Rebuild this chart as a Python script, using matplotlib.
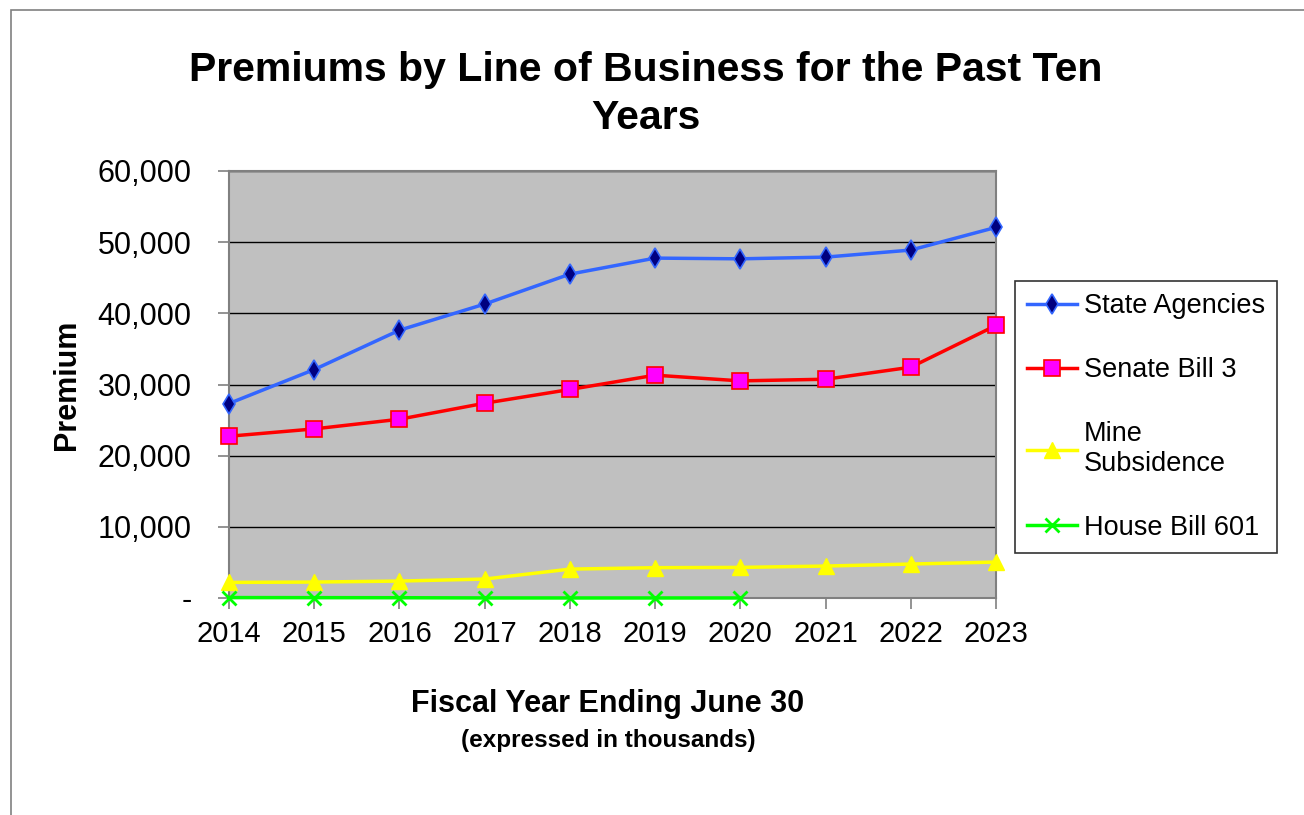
import matplotlib.pyplot as plt
from matplotlib.patches import Rectangle
from matplotlib.ticker import FuncFormatter

years = [2014, 2015, 2016, 2017, 2018, 2019, 2020, 2021, 2022, 2023]
state_agencies = [27330, 32100, 37630, 41300, 45510, 47760, 47660, 47900, 48890, 52080]
senate_bill_3 = [22730, 23760, 25120, 27370, 29300, 31310, 30510, 30740, 32430, 38300]
mine_subsidence = [2190, 2240, 2380, 2660, 4060, 4260, 4300, 4490, 4770, 5050]
house_bill_601 = [60, 50, 40, 10, 5, 5, 5, None, None, None]
y_ticks = [0, 10000, 20000, 30000, 40000, 50000, 60000]

plt.rcParams["font.family"] = ["Liberation Sans", "DejaVu Sans"]


def tick_label(value, pos):
    if value == 0:
        return "-"
    return f"{value:,.0f}"


fig = plt.figure(figsize=(13.04, 8.15), dpi=100)
ax = fig.add_axes([229 / 1304, 1 - 598 / 815, (996 - 229) / 1304, (598 - 171) / 815])

fig.patches.append(Rectangle((11 / 1304, -0.1), 1.2, 1 - 10 / 815 + 0.1, transform=fig.transFigure,
                             fill=False, edgecolor="#808080", linewidth=1.2))

ax.set_facecolor("#C0C0C0")
ax.grid(axis="y", color="black", linewidth=1)
ax.set_axisbelow(True)

hb = [float("nan") if v is None else v for v in house_bill_601]

ax.plot(years, state_agencies, color="#3366FF", linewidth=2.5, marker="d", markersize=10,
        markerfacecolor="#000080", markeredgecolor="#3366FF", markeredgewidth=1.2,
        label="State Agencies", clip_on=False, zorder=5)
ax.plot(years, senate_bill_3, color="#FF0000", linewidth=2.5, marker="s", markersize=11,
        markerfacecolor="#FF00FF", markeredgecolor="#FF0000", markeredgewidth=1.2,
        label="Senate Bill 3", clip_on=False, zorder=5)
ax.plot(years, mine_subsidence, color="#FFFF00", linewidth=2.5, marker="^", markersize=11,
        markerfacecolor="#FFFF00", markeredgecolor="#FFFF00", label="Mine\nSubsidence",
        clip_on=False, zorder=5)
ax.plot(years, hb, color="#00FF00", linewidth=2.5, marker="x", markersize=10,
        markeredgewidth=2, label="House Bill 601", clip_on=False, zorder=5)

ax.set_xlim(years[0], years[-1])
ax.set_ylim(0, 60000)
ax.set_xticks(years)
ax.set_yticks(y_ticks)
ax.yaxis.set_major_formatter(FuncFormatter(tick_label))
ax.tick_params(axis="both", direction="out", length=8, color="#808080", width=1.2)
ax.tick_params(axis="x", labelsize=21, pad=8)
ax.tick_params(axis="y", labelsize=22, pad=19)
for spine in ax.spines.values():
    spine.set_color("#808080")
    spine.set_linewidth(1.5)

ax.set_ylabel("Premium", fontsize=22, fontweight="bold", labelpad=11)

fig.text(646 / 1304, 1 - 94 / 815, "Premiums by Line of Business for the Past Ten\nYears",
         ha="center", va="center", fontsize=29.5, fontweight="bold", linespacing=1.32)
fig.text(608 / 1304, 1 - 704 / 815, "Fiscal Year Ending June 30", ha="center", va="center",
         fontsize=22, fontweight="bold")
fig.text(608 / 1304, 1 - 740 / 815, "(expressed in thousands)", ha="center", va="center",
         fontsize=17.5, fontweight="bold")

leg = fig.legend(loc="upper left", bbox_to_anchor=(1015 / 1304, 1 - 281 / 815), fontsize=19.5,
                 frameon=True, fancybox=False, edgecolor="black", handlelength=1.85,
                 labelspacing=1.4, borderpad=0.45, handletextpad=0.25, borderaxespad=0)
leg.get_frame().set_linewidth(1.2)

fig.savefig("out.png", dpi=100)
